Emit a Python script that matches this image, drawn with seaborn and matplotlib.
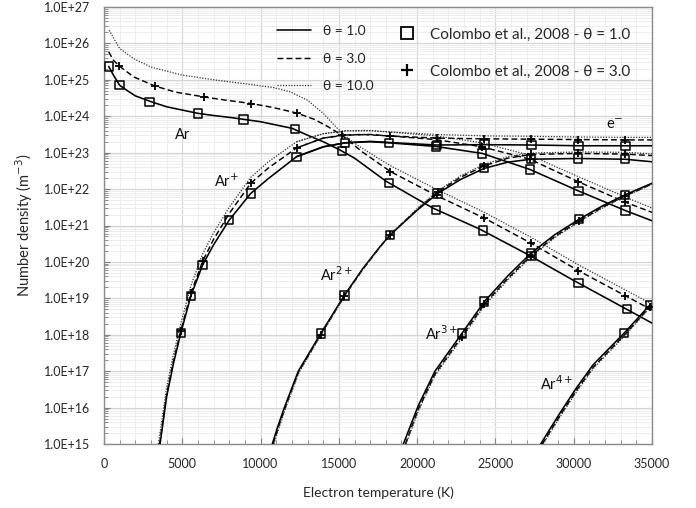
import numpy as np
import pandas as pd
import matplotlib
matplotlib.use("Agg")
import matplotlib.pyplot as plt
import seaborn as sns
from matplotlib.ticker import FixedLocator, FuncFormatter, NullFormatter
from matplotlib.lines import Line2D

# ---------------- data (log10 of number density, m^-3) ----------------
T_AR_1 = [300, 600, 1000, 1500, 2000, 3000, 4000, 5000, 6000, 7000, 8000, 9000, 10000, 11000, 12000,
          13000, 14000, 15000, 16000, 18000, 21000, 24000, 27000, 30000, 33000, 35000]
L_AR_1 = [25.37, 25.13, 24.85, 24.70, 24.56, 24.40, 24.26, 24.17, 24.08, 24.02, 23.97, 23.91, 23.85, 23.76, 23.67,
          23.48, 23.30, 23.09, 22.85, 22.22, 21.48, 20.90, 20.22, 19.49, 18.79, 18.32]
T_AR_3 = [300, 600, 1000, 1900, 3250, 4600, 6400, 7800, 9400, 10800, 12300, 13400, 14200, 15200, 16500,
          18300, 21200, 24300, 27300, 30300, 33300, 35000]
L_AR_3 = [25.77, 25.54, 25.37, 25.08, 24.83, 24.66, 24.53, 24.44, 24.35, 24.24, 24.09, 23.92, 23.74, 23.48, 23.02,
          22.48, 21.83, 21.20, 20.51, 19.76, 19.07, 18.68]
T_AR_10 = [330, 1000, 1900, 3000, 5000, 7200, 8700, 10800, 11900, 13000, 14000, 14900, 15700, 16500, 17500,
           18300, 21200, 24300, 27300, 30300, 33300, 35000]
L_AR_10 = [26.36, 25.86, 25.58, 25.35, 25.13, 24.99, 24.91, 24.79, 24.67, 24.44, 24.08, 23.67, 23.35, 23.12, 22.85,
           22.64, 22.00, 21.36, 20.67, 19.92, 19.23, 18.84]

T_ARP_1 = [3580, 4000, 4430, 4900, 5550, 6300, 7000, 8000, 9370, 10500, 12300, 14000, 15400, 17000, 18200,
           21200, 24150, 27200, 30300, 33300, 35000]
L_ARP_1 = [15.0, 16.3, 17.2, 18.04, 19.07, 19.92, 20.47, 21.15, 21.88, 22.29, 22.89, 23.16, 23.27, 23.30, 23.27,
           23.17, 22.98, 22.54, 21.95, 21.41, 21.13]
T_ARP_3 = [3550, 4000, 4430, 4900, 5550, 6300, 7000, 8000, 9370, 10500, 12300, 14000, 15200, 16500, 18200,
           21200, 24150, 27200, 30300, 33300, 35000]
L_ARP_3 = [15.0, 16.36, 17.27, 18.10, 19.14, 20.02, 20.62, 21.33, 22.16, 22.58, 23.13, 23.40, 23.48, 23.50, 23.46,
           23.36, 23.16, 22.82, 22.20, 21.64, 21.36]
T_ARP_10 = [3470, 4000, 4430, 4900, 5550, 6300, 7000, 8000, 9370, 10500, 12300, 14000, 15500, 17000, 18200,
            21200, 24150, 27200, 30300, 33300, 35000]
L_ARP_10 = [15.0, 16.55, 17.45, 18.30, 19.35, 20.22, 20.80, 21.50, 22.32, 22.75, 23.30, 23.52, 23.60, 23.60, 23.57,
            23.46, 23.27, 22.93, 22.34, 21.78, 21.48]

T_AR2_1 = [10750, 11100, 11520, 12410, 13840, 15350, 16500, 17630, 18270, 20000, 21310, 22800, 24290, 25800, 27270, 30290, 33270, 35000]
L_AR2_1 = [15.0, 15.48, 16.0, 17.0, 18.03, 19.08, 19.80, 20.42, 20.74, 21.42, 21.88, 22.27, 22.57, 22.74, 22.82, 22.84, 22.82, 22.75]
T_AR2_3 = [10800, 11150, 11550, 12430, 13840, 15350, 16500, 17630, 18270, 20000, 21310, 22800, 24290, 25800, 27270, 30290, 33270, 35000]
L_AR2_3 = [15.0, 15.48, 15.98, 16.98, 18.0, 19.06, 19.78, 20.41, 20.74, 21.44, 21.92, 22.33, 22.64, 22.85, 22.95, 22.98, 22.96, 22.92]
T_AR2_10 = [10850, 11200, 11580, 12450, 13840, 15350, 16500, 17630, 18270, 20000, 21310, 22800, 24290, 25800, 27270, 30290, 33270, 35000]
L_AR2_10 = [15.0, 15.47, 15.96, 16.96, 17.98, 19.05, 19.78, 20.41, 20.75, 21.46, 21.95, 22.37, 22.68, 22.89, 22.99, 23.02, 23.01, 22.97]

T_AR3_1 = [19120, 20070, 21140, 22850, 24290, 25800, 27270, 28800, 30340, 31800, 33270, 35000]
L_AR3_1 = [15.0, 16.05, 17.0, 18.03, 18.91, 19.62, 20.24, 20.75, 21.17, 21.53, 21.84, 22.16]
T_AR3_3 = [19250, 20070, 21140, 22850, 24290, 25800, 27270, 28800, 30340, 31800, 33270, 35000]
L_AR3_3 = [15.0, 15.95, 16.92, 17.95, 18.84, 19.55, 20.17, 20.70, 21.12, 21.49, 21.81, 22.14]
T_AR3_10 = [19300, 20070, 21140, 22850, 24290, 25800, 27270, 28800, 30340, 31800, 33270, 35000]
L_AR3_10 = [15.0, 15.9, 16.88, 17.9, 18.8, 19.51, 20.14, 20.67, 21.10, 21.47, 21.80, 22.13]

T_AR4_1 = [27890, 29120, 30190, 31250, 33210, 34870, 35000]
L_AR4_1 = [15.0, 15.85, 16.55, 17.18, 18.04, 18.82, 18.87]
T_AR4_3 = [28000, 29120, 30190, 31250, 33210, 34870, 35000]
L_AR4_3 = [15.0, 15.78, 16.48, 17.11, 17.98, 18.77, 18.82]
T_AR4_10 = [28050, 29120, 30190, 31250, 33210, 34870, 35000]
L_AR4_10 = [15.0, 15.74, 16.44, 17.07, 17.95, 18.74, 18.79]

T_E = [12300, 14000, 15400, 17000, 18200, 21250, 24300, 27300, 30300, 33300, 35000]
L_E_1 = [22.89, 23.16, 23.27, 23.31, 23.28, 23.21, 23.22, 23.21, 23.19, 23.19, 23.19]
L_E_3 = [23.13, 23.40, 23.48, 23.50, 23.46, 23.40, 23.38, 23.37, 23.36, 23.35, 23.35]
L_E_10 = [23.30, 23.52, 23.60, 23.61, 23.57, 23.50, 23.46, 23.45, 23.43, 23.42, 23.42]

# Colombo et al., 2008 - theta = 1.0 (squares)
SQ_AR_T = [330, 1000, 2900, 6000, 8900, 12200, 15200, 18200, 21200, 24200, 27300, 30300, 33400]
SQ_AR_L = [25.37, 24.85, 24.40, 24.08, 23.91, 23.65, 23.04, 22.17, 21.43, 20.86, 20.16, 19.42, 18.70]
SQ_ARP_T = [4900, 5550, 6300, 8000, 9370, 12300, 15400, 18200, 21200, 24150, 27200, 30300, 33300]
SQ_ARP_L = [18.04, 19.07, 19.92, 21.15, 21.88, 22.89, 23.27, 23.27, 23.17, 22.98, 22.54, 21.95, 21.41]
SQ_E_T = [21250, 24300, 27300, 30300, 33300]
SQ_E_L = [23.21, 23.22, 23.21, 23.19, 23.19]
SQ_AR2_T = [13840, 15350, 18270, 21310, 24290, 27270, 30290, 33270]
SQ_AR2_L = [18.03, 19.08, 20.74, 21.88, 22.57, 22.82, 22.84, 22.82]
SQ_AR3_T = [22850, 24290, 27270, 30340, 33270]
SQ_AR3_L = [18.03, 18.91, 20.24, 21.17, 21.84]
SQ_AR4_T = [33210, 34870]
SQ_AR4_L = [18.04, 18.82]

# Colombo et al., 2008 - theta = 3.0 (plus)
PL_AR_T = [980, 3250, 6400, 9370, 12300, 15220, 18270, 21250, 24270, 27270, 30290, 33270]
PL_AR_L = [25.37, 24.83, 24.53, 24.35, 24.09, 23.48, 22.48, 21.83, 21.20, 20.51, 19.76, 19.07]
PL_ARP_T = [4900, 5550, 6300, 9370, 12300, 24150, 27200, 30290, 33270]
PL_ARP_L = [18.10, 19.14, 20.02, 22.16, 23.13, 23.16, 22.82, 22.20, 21.65]
PL_E_T = [18270, 21250, 24300, 27300, 30300, 33300]
PL_E_L = [23.46, 23.40, 23.38, 23.37, 23.36, 23.35]
PL_AR2_T = [13840, 15350, 18270, 21310, 24290, 27270, 30290, 33270]
PL_AR2_L = [18.0, 19.06, 20.74, 21.92, 22.64, 22.95, 22.98, 22.96]
PL_AR3_T = [22850, 24290, 27270, 30340, 33270]
PL_AR3_L = [17.95, 18.84, 20.17, 21.12, 21.81]
PL_AR4_T = [34870]
PL_AR4_L = [18.77]

THETAS = ["1.0", "3.0", "10.0"]
LABELS = ["Ar", "Ar$^{+}$", "Ar$^{2+}$", "Ar$^{3+}$", "Ar$^{4+}$", "e$^{-}$"]
LABEL_T = [5046, 7837, 14862, 21569, 28914, 32638]
LABEL_L = [23.48, 22.20, 19.64, 18.04, 16.67, 23.76]

X_TICKS = [0, 5000, 10000, 15000, 20000, 25000, 30000, 35000]
Y_EXPONENTS = list(range(15, 28))

# ---------------- build tables ----------------
curve_sets = {
    "1.0": [("Ar", T_AR_1, L_AR_1), ("Ar+", T_ARP_1, L_ARP_1), ("Ar2+", T_AR2_1, L_AR2_1),
            ("Ar3+", T_AR3_1, L_AR3_1), ("Ar4+", T_AR4_1, L_AR4_1), ("e-", T_E, L_E_1)],
    "3.0": [("Ar", T_AR_3, L_AR_3), ("Ar+", T_ARP_3, L_ARP_3), ("Ar2+", T_AR2_3, L_AR2_3),
            ("Ar3+", T_AR3_3, L_AR3_3), ("Ar4+", T_AR4_3, L_AR4_3), ("e-", T_E, L_E_3)],
    "10.0": [("Ar", T_AR_10, L_AR_10), ("Ar+", T_ARP_10, L_ARP_10), ("Ar2+", T_AR2_10, L_AR2_10),
             ("Ar3+", T_AR3_10, L_AR3_10), ("Ar4+", T_AR4_10, L_AR4_10), ("e-", T_E, L_E_10)],
}
rows = []
for th, lst in curve_sets.items():
    for sp, T, L in lst:
        for t, l in zip(T, L):
            rows.append({"theta": th, "species": sp, "T": t, "n": 10.0 ** l})
df = pd.DataFrame(rows)

def pts(pairs):
    r = []
    for sp, T, L in pairs:
        for t, l in zip(T, L):
            r.append({"species": sp, "T": t, "n": 10.0 ** l})
    return pd.DataFrame(r)

sq = pts([("Ar", SQ_AR_T, SQ_AR_L), ("Ar+", SQ_ARP_T, SQ_ARP_L), ("e-", SQ_E_T, SQ_E_L),
          ("Ar2+", SQ_AR2_T, SQ_AR2_L), ("Ar3+", SQ_AR3_T, SQ_AR3_L), ("Ar4+", SQ_AR4_T, SQ_AR4_L)])
pl = pts([("Ar", PL_AR_T, PL_AR_L), ("Ar+", PL_ARP_T, PL_ARP_L), ("e-", PL_E_T, PL_E_L),
          ("Ar2+", PL_AR2_T, PL_AR2_L), ("Ar3+", PL_AR3_T, PL_AR3_L), ("Ar4+", PL_AR4_T, PL_AR4_L)])

# ---------------- plot ----------------
sns.set_theme(style="white")
plt.rcParams['font.family'] = ['Lato', 'DejaVu Sans']

fig = plt.figure(figsize=(6.96, 5.08), dpi=100)
ax = fig.add_axes([104 / 696, 1 - 444 / 508, (652 - 104) / 696, (444 - 7) / 508])
ax.set_yscale("log")

styles = {"1.0": dict(linestyle="-", lw=1.15, color="black"),
          "3.0": dict(linestyle=(0, (4.0, 2.2)), lw=1.05, color="black"),
          "10.0": dict(linestyle=(0, (1.0, 1.2)), lw=0.9, color="#333333")}
for th in THETAS:
    sub = df[df["theta"] == th]
    sns.lineplot(data=sub, x="T", y="n", units="species", estimator=None, sort=False,
                 ax=ax, legend=False, zorder=3, **styles[th])

sns.scatterplot(data=sq, x="T", y="n", marker="s", s=36, facecolor="none", edgecolor="black",
                linewidth=1.1, ax=ax, legend=False, zorder=5)
sns.scatterplot(data=pl, x="T", y="n", marker="+", s=40, color="black",
                linewidth=1.3, ax=ax, legend=False, zorder=6)

for lab, t, l in zip(LABELS, LABEL_T, LABEL_L):
    ax.text(t, 10.0 ** l, lab, ha="center", va="center", fontsize=10.5, color="#111111")

ax.set_xlim(0, 35000)
ax.set_ylim(1e15, 1e27)
ax.xaxis.set_major_locator(FixedLocator(X_TICKS))
ax.xaxis.set_minor_locator(FixedLocator([t for t in range(1000, 35000, 1000) if t % 5000]))
ax.yaxis.set_major_locator(FixedLocator([10.0 ** e for e in Y_EXPONENTS]))
ax.yaxis.set_minor_locator(FixedLocator([m * 10.0 ** e for e in Y_EXPONENTS[:-1] for m in range(2, 10)]))
ax.yaxis.set_minor_formatter(NullFormatter())
ax.xaxis.set_minor_formatter(NullFormatter())
ax.yaxis.set_major_formatter(FuncFormatter(lambda v, p: "1.0E+%02d" % int(round(np.log10(v)))))

ax.grid(which="major", color="#d6d6d6", lw=0.9)
ax.grid(which="minor", color="#ededed", lw=0.7)
ax.set_axisbelow(True)
ax.tick_params(which="major", direction="in", length=4, width=0.8, color="#808080",
               labelsize=9, left=True, bottom=True)
ax.tick_params(axis="y", which="major", pad=10)
ax.tick_params(axis="x", which="major", pad=10)
ax.tick_params(which="minor", direction="in", length=3, width=0.6, color="#808080", left=True, bottom=True)
for s in ax.spines.values():
    s.set_color("#8a8a8a")
    s.set_linewidth(1.0)

ax.set_xlabel("Electron temperature (K)", fontsize=10, labelpad=12)
ax.set_ylabel("Number density (m$^{-3}$)", fontsize=10.5, labelpad=6)

h1 = [Line2D([], [], **styles[th]) for th in THETAS]
leg1 = ax.legend(h1, ["θ = " + th for th in THETAS], loc="upper left", bbox_to_anchor=(0.305, 0.971),
                 frameon=False, fontsize=10, handlelength=2.5, handletextpad=0.8, labelspacing=1.1,
                 borderaxespad=0)
ax.add_artist(leg1)
h2 = [Line2D([], [], marker="s", ls="none", markersize=8, markerfacecolor="none", markeredgecolor="black",
             markeredgewidth=1.3),
      Line2D([], [], marker="+", ls="none", markersize=8, color="black", markeredgewidth=1.6)]
ax.legend(h2, ["Colombo et al., 2008 - θ = 1.0", "Colombo et al., 2008 - θ = 3.0"], loc="upper left",
          bbox_to_anchor=(0.527, 0.967), frameon=False, fontsize=11, handlelength=1.05,
          handletextpad=1.0, labelspacing=1.5, borderaxespad=0)

fig.savefig("out.png", dpi=100)
